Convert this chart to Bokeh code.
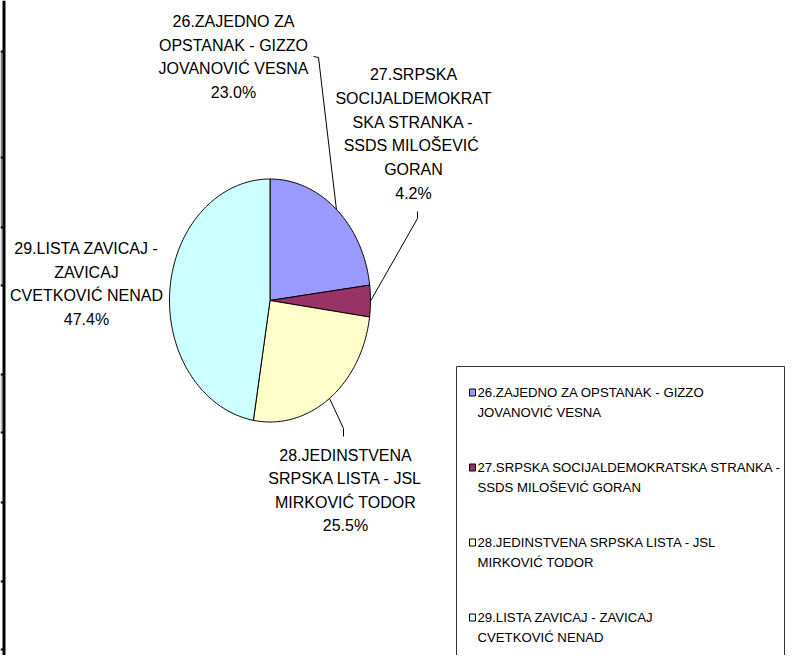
import numpy as np
from bokeh.plotting import figure
from bokeh.models import Range1d
from bokeh.core.properties import value
from bokeh.embed import file_html
from bokeh.resources import INLINE

# ---- data ----
pie_names = [
    "26.ZAJEDNO ZA\nOPSTANAK - GIZZO\nJOVANOVIĆ VESNA",
    "27.SRPSKA\nSOCIJALDEMOKRAT\nSKA STRANKA -\nSSDS  MILOŠEVIĆ\nGORAN",
    "28.JEDINSTVENA\nSRPSKA LISTA - JSL\nMIRKOVIĆ TODOR",
    "29.LISTA ZAVICAJ -\nZAVICAJ\nCVETKOVIĆ NENAD",
]
legend_names = [
    "26.ZAJEDNO ZA OPSTANAK - GIZZO\nJOVANOVIĆ VESNA",
    "27.SRPSKA SOCIJALDEMOKRATSKA STRANKA -\nSSDS  MILOŠEVIĆ GORAN",
    "28.JEDINSTVENA SRPSKA LISTA - JSL\nMIRKOVIĆ TODOR",
    "29.LISTA ZAVICAJ - ZAVICAJ\nCVETKOVIĆ NENAD",
]
shares = [23.0, 4.2, 25.5, 47.4]
colors = ["#9999FF", "#993366", "#FFFFCC", "#CCFFFF"]

# ---- layout (pixel-like coordinates) ----
W, H = 785, 655
CX, CY, RX, RY = 269.5, 300.0, 100.5, 121.5
label_x = [233, 413, 345, 86]
label_y = [56.5, 133.5, 490, 283.5]
FONT = "Liberation Sans"

p = figure(width=W, height=H, output_backend="svg", toolbar_location=None,
           x_range=Range1d(0, W), y_range=Range1d(H, 0),
           min_border=0, outline_line_color=None,
           background_fill_color="white", border_fill_color="white")
p.xaxis.visible = False
p.yaxis.visible = False
p.xgrid.grid_line_color = None
p.ygrid.grid_line_color = None

# left spreadsheet edge: thick line, grey cell bits and row ticks
p.quad(left=[0, 0, 0], right=[2, 2, 2], top=[51, 227, 374], bottom=[227, 285, 432],
       fill_color=["#808080", "#C0C0C0", "#C0C0C0"], line_color=None)
row_ticks = [51, 157, 227, 285, 374, 432, 502, 581, 649]
p.quad(left=[0] * len(row_ticks), right=[3] * len(row_ticks),
       top=[t - 1 for t in row_ticks], bottom=[t + 1 for t in row_ticks],
       fill_color="black", line_color=None)
p.quad(left=[2], right=[5], top=[0], bottom=[H], fill_color="black", line_color=None)

# ---- pie slices (stretched circle) ----
total = sum(shares)
fr = np.array(shares) / total
ends = np.cumsum(fr)
starts = ends - fr
xs, ys = [], []
for s, e in zip(starts, ends):
    t = np.linspace(s, e, max(int((e - s) * 400), 4)) * 2 * np.pi
    xs.append([CX] + list(CX + RX * np.sin(t)) + [CX])
    ys.append([CY] + list(CY - RY * np.cos(t)) + [CY])
p.patches(xs=xs, ys=ys, fill_color=colors, line_color="black", line_width=1)

# ---- leader lines: from slice mid-point on the rim to the label ----
mid = (starts + ends) / 2 * 2 * np.pi
rim_x = CX + RX * np.sin(mid)
rim_y = CY - RY * np.cos(mid)
lead_xs = [
    [313, 318, rim_x[0]],
    [417, 417, rim_x[1]],
    [rim_x[2], 343, 343],
]
lead_ys = [
    [56, 57, rim_y[0]],
    [211, 218, rim_y[1]],
    [rim_y[2], 428, 436],
]
p.multi_line(xs=lead_xs, ys=lead_ys, line_color="black", line_width=1)

# ---- slice labels ----
texts = [n + "\n" + f"{v:.1f}%" for n, v in zip(pie_names, shares)]
p.text(x=label_x, y=label_y, text=texts, text_font=value(FONT),
       text_font_size="16px", text_align="center", text_baseline="middle",
       text_line_height=1.39, text_color="black")

# ---- legend ----
LX0, LY0 = 456, 366
p.quad(left=[LX0], right=[W - 1], top=[LY0], bottom=[H + 5],
       fill_color=None, line_color="#333333", line_width=1)
ent_y = [LY0 + 36 + 75 * i for i in range(len(legend_names))]
p.rect(x=[472] * len(colors), y=[y - 10 for y in ent_y], width=6, height=7,
       fill_color=colors, line_color="black", line_width=1)
p.text(x=[477] * len(legend_names), y=ent_y, text=legend_names,
       text_font=value(FONT), text_font_size="13.2px", text_align="left",
       text_baseline="middle", text_line_height=1.35, text_color="black")

open("out.html", "w").write(file_html(p, INLINE))
